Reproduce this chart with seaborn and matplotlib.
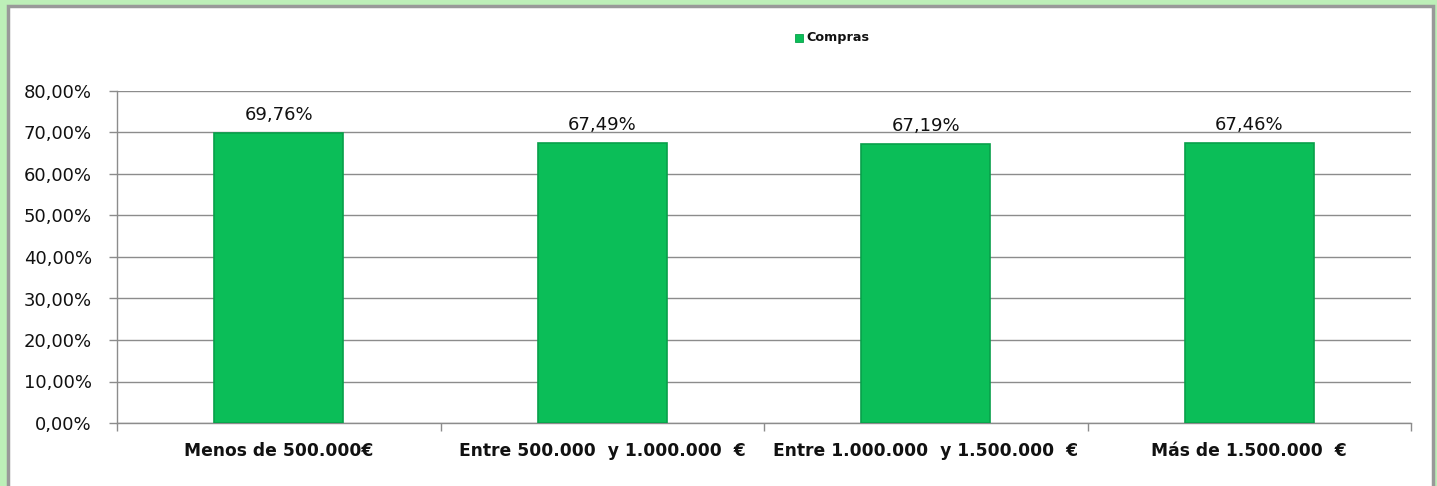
import matplotlib
matplotlib.use("Agg")
import matplotlib.pyplot as plt
import seaborn as sns
import pandas as pd
from matplotlib.patches import Rectangle
from matplotlib.ticker import FuncFormatter, MultipleLocator

categories = ["Menos de 500.000€", "Entre 500.000  y 1.000.000  €",
              "Entre 1.000.000  y 1.500.000  €", "Más de 1.500.000  €"]
compras = [69.76, 67.49, 67.19, 67.46]
labels = ["69,76%", "67,49%", "67,19%", "67,46%"]
series_name = "Compras"

df = pd.DataFrame({"cat": categories, "val": compras, "serie": series_name})

sns.set_theme(style="white")
plt.rcParams['font.family'] = ['DejaVu Sans']

W, H = 1437, 486
fig = plt.figure(figsize=(W/100, H/100), dpi=100, facecolor="#BDEFB8")
# white inner frame
fig.patches.append(Rectangle((8/W, -0.02), (1433-8)/W, (H-6)/H + 0.02, transform=fig.transFigure,
                             facecolor="white", edgecolor="#999999", linewidth=2.5, zorder=-10))

ax = fig.add_axes([117/W, (H-423)/H, (1411-117)/W, (423-91)/H])
ax.set_facecolor("none")
ax.set_zorder(1)

bar_color = "#0BBE58"
sns.barplot(data=df, x="cat", y="val", hue="serie", palette=[bar_color], width=0.4,
            saturation=1, ax=ax, edgecolor="#08A04A", linewidth=1.2, legend=False, zorder=3)

ax.set_ylim(0, 80)
ax.set_xlim(-0.5, 3.5)
ax.yaxis.set_major_locator(MultipleLocator(10))
ax.yaxis.set_major_formatter(FuncFormatter(lambda v, p: f"{v:.2f}".replace(".", ",") + "%"))
ax.grid(axis="y", color="#8C8C8C", linewidth=1.0, zorder=0)
ax.set_axisbelow(True)
for s in ["top", "right"]:
    ax.spines[s].set_visible(False)
ax.spines["left"].set_color("#8C8C8C")
ax.spines["bottom"].set_color("#8C8C8C")
ax.spines["left"].set_linewidth(1.0)
ax.spines["bottom"].set_linewidth(1.0)

ax.set_xlabel("")
ax.set_ylabel("")
ax.tick_params(axis="y", labelsize=13, colors="#111111", left=True, length=6, width=1, color="#8C8C8C", pad=12)
ax.set_xticks([-0.5, 0.5, 1.5, 2.5, 3.5], minor=True)
ax.tick_params(axis="x", which="major", length=0, pad=14)
ax.tick_params(axis="x", which="minor", bottom=True, length=6, width=1, color="#8C8C8C")
for t in ax.get_xticklabels():
    t.set_fontsize(12.3)
    t.set_fontweight("bold")
    t.set_color("#111111")

for i, (v, lab) in enumerate(zip(compras, labels)):
    ax.text(i, v + 2.2, lab, ha="center", va="bottom", fontsize=13, color="#111111")

# legend
fig.patches.append(Rectangle((795/W, (H-42)/H), 8/W, 8/H, transform=fig.transFigure,
                             facecolor=bar_color, edgecolor="#08A04A", linewidth=0.6, zorder=5))
fig.text(806/W, (H-38)/H, series_name, fontsize=9.2, fontweight="bold", color="#111111",
         va="center", ha="left")

fig.savefig("out.png", dpi=100, facecolor=fig.get_facecolor())
